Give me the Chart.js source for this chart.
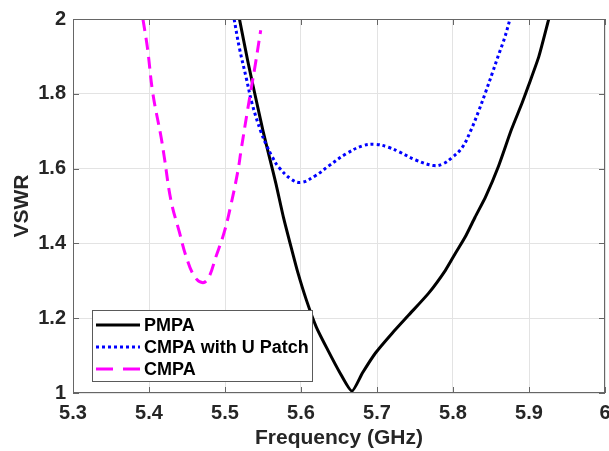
<!DOCTYPE html>
<html>
<head>
<meta charset="utf-8">
<script src="https://cdn.jsdelivr.net/npm/chart.js@4.4.1/dist/chart.umd.min.js"></script>
<style>
  html, body { margin: 0; padding: 0; background: #fff; }
  #wrap { width: 609px; height: 451px; }
</style>
</head>
<body>
<div id="wrap"><canvas id="vswr" width="609" height="451"></canvas></div>
<script>
// values
var xTicks = [5.3, 5.4, 5.5, 5.6, 5.7, 5.8, 5.9, 6];
var yTicks = [1, 1.2, 1.4, 1.6, 1.8, 2];

var pmpaFreq = [5.519, 5.530, 5.539, 5.550, 5.559, 5.567, 5.577, 5.588, 5.596, 5.607, 5.620, 5.635, 5.651, 5.667,
                5.681, 5.698, 5.720, 5.742, 5.768, 5.790, 5.803, 5.816, 5.829, 5.843, 5.860, 5.877, 5.891, 5.899, 5.913, 5.926];
var pmpaVswr = [2.0, 1.887, 1.802, 1.701, 1.626, 1.560, 1.469, 1.382, 1.321, 1.249, 1.177, 1.116, 1.055, 1.005,
                1.054, 1.107, 1.160, 1.209, 1.267, 1.328, 1.373, 1.417, 1.470, 1.525, 1.607, 1.705, 1.776, 1.820, 1.900, 2.0];

var uPatchFreq = [5.512, 5.519, 5.528, 5.536, 5.547, 5.554, 5.562, 5.571, 5.587, 5.600, 5.619, 5.637, 5.659,
                  5.681, 5.698, 5.715, 5.729, 5.751, 5.775, 5.787, 5.799, 5.812, 5.823, 5.834, 5.843, 5.852, 5.861, 5.868, 5.875];
var uPatchVswr = [2.0, 1.922, 1.842, 1.771, 1.700, 1.665, 1.632, 1.603, 1.572, 1.563, 1.581, 1.608, 1.639,
                  1.661, 1.665, 1.657, 1.645, 1.623, 1.608, 1.613, 1.630, 1.656, 1.700, 1.755, 1.805, 1.857, 1.910, 1.950, 2.0];

var cmpaFreq = [5.392, 5.398, 5.405, 5.416, 5.420, 5.429, 5.440, 5.449, 5.460, 5.471, 5.479, 5.488,
                5.499, 5.508, 5.517, 5.521, 5.530, 5.540, 5.547];
var cmpaVswr = [2.0, 1.922, 1.802, 1.683, 1.632, 1.514, 1.430, 1.364, 1.311, 1.295, 1.311, 1.364,
                1.430, 1.505, 1.594, 1.647, 1.760, 1.880, 1.970];

function toPoints(xs, ys) {
    return xs.map(function(x, i) { return {x: x, y: ys[i]}; });
}

var fontFam = "'Liberation Sans', Arial, sans-serif";
var axisColor = '#666666';

// MATLAB style box, inward ticks and legend inside the axes
var matlabAxes = {
    id: 'matlabAxes',
    afterDatasetsDraw: function(chart) {
        var ctx = chart.ctx, a = chart.chartArea;
        var xs = chart.scales.x, ys = chart.scales.y;
        ctx.save();
        ctx.strokeStyle = axisColor;
        ctx.lineWidth = 1;
        ctx.strokeRect(a.left + 0.5, a.top + 0.5, a.right - a.left - 1, a.bottom - a.top - 1);
        ctx.beginPath();
        xTicks.forEach(function(v) {
            var px = Math.round(xs.getPixelForValue(v)) + 0.5;
            ctx.moveTo(px, a.bottom); ctx.lineTo(px, a.bottom - 6);
            ctx.moveTo(px, a.top); ctx.lineTo(px, a.top + 6);
        });
        yTicks.forEach(function(v) {
            var py = Math.round(ys.getPixelForValue(v)) + 0.5;
            ctx.moveTo(a.left, py); ctx.lineTo(a.left + 6, py);
            ctx.moveTo(a.right, py); ctx.lineTo(a.right - 6, py);
        });
        ctx.stroke();

        // legend
        var bx = 92, by = 310, bw = 220, bh = 71;
        ctx.fillStyle = '#ffffff';
        ctx.fillRect(bx, by, bw, bh);
        ctx.strokeStyle = '#5a5a5a';
        ctx.strokeRect(bx + 0.5, by + 0.5, bw, bh);
        ctx.font = 'bold 18px ' + fontFam;
        ctx.textBaseline = 'middle';
        ctx.textAlign = 'left';
        chart.data.datasets.forEach(function(ds, i) {
            var ly = by + 15 + i * 22;
            ctx.beginPath();
            ctx.strokeStyle = ds.borderColor;
            ctx.lineWidth = ds.borderWidth;
            ctx.setLineDash(ds.legendDash || []);
            ctx.moveTo(96, ly);
            ctx.lineTo(140, ly);
            ctx.stroke();
            ctx.setLineDash([]);
            ctx.fillStyle = '#000000';
            ctx.fillText(ds.label, 144, ly + 1);
        });
        ctx.restore();
    }
};

var chart = new Chart(document.getElementById('vswr'), {
    type: 'scatter',
    data: {
        datasets: [{
            label: 'PMPA',
            data: toPoints(pmpaFreq, pmpaVswr),
            showLine: true,
            borderColor: '#000000',
            borderWidth: 3,
            tension: 0.2,
            pointRadius: 0,
            order: 3
        }, {
            label: 'CMPA with U Patch',
            data: toPoints(uPatchFreq, uPatchVswr),
            showLine: true,
            borderColor: '#0000ff',
            borderWidth: 3,
            borderDash: [3, 3],
            legendDash: [3, 3],
            tension: 0.4,
            pointRadius: 0,
            order: 2
        }, {
            label: 'CMPA',
            data: toPoints(cmpaFreq, cmpaVswr),
            showLine: true,
            borderColor: '#ff00ff',
            borderWidth: 3,
            borderDash: [12, 7],
            legendDash: [17, 10],
            tension: 0.4,
            pointRadius: 0,
            order: 1
        }]
    },
    options: {
        responsive: false,
        animation: false,
        devicePixelRatio: 1,
        layout: { padding: { top: 17, right: 4, left: 0, bottom: 0 } },
        plugins: {
            legend: { display: false },
            tooltip: { enabled: false }
        },
        scales: {
            x: {
                type: 'linear',
                min: 5.3,
                max: 6,
                afterFit: function(s) { s.height = 58; s.paddingLeft = 0; s.paddingRight = 0; },
                afterBuildTicks: function(s) { s.ticks = xTicks.map(function(v) { return {value: v}; }); },
                ticks: {
                    color: '#262626',
                    font: { family: fontFam, size: 20, weight: 'bold' },
                    padding: 8,
                    maxRotation: 0,
                    callback: function(v) { return String(Number(v.toFixed(1))); }
                },
                grid: { color: '#e3e3e3', drawTicks: false },
                border: { display: false },
                title: {
                    display: true,
                    text: 'Frequency (GHz)',
                    color: '#262626',
                    font: { family: fontFam, size: 21, weight: 'bold' },
                    padding: { top: 0, bottom: 0 }
                }
            },
            y: {
                type: 'linear',
                min: 1,
                max: 2,
                afterFit: function(s) { s.width = 73; },
                afterBuildTicks: function(s) { s.ticks = yTicks.map(function(v) { return {value: v}; }); },
                ticks: {
                    color: '#262626',
                    font: { family: fontFam, size: 20, weight: 'bold' },
                    padding: 7,
                    callback: function(v) { return String(Number(v.toFixed(1))); }
                },
                grid: { color: '#e3e3e3', drawTicks: false },
                border: { display: false },
                title: {
                    display: true,
                    text: 'VSWR',
                    color: '#262626',
                    font: { family: fontFam, size: 21, weight: 'bold' },
                    padding: { top: 10, bottom: 0 }
                }
            }
        }
    },
    plugins: [matlabAxes]
});
</script>
</body>
</html>
